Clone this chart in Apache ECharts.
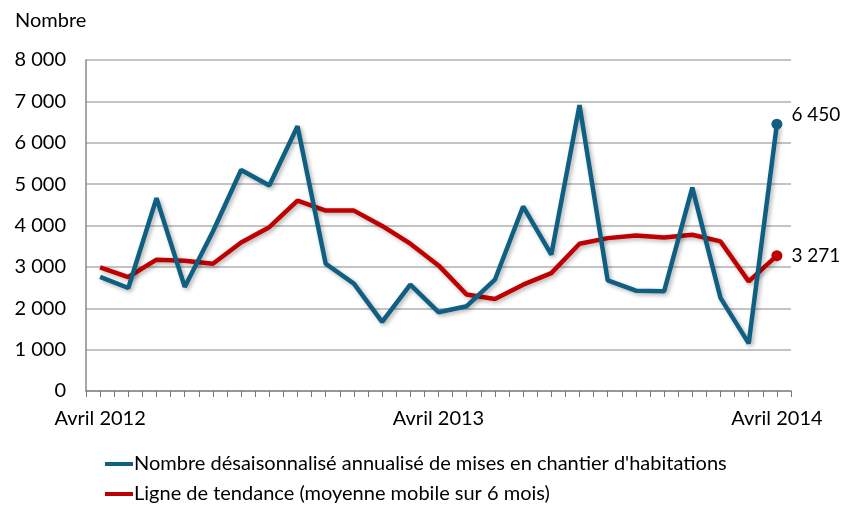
<!DOCTYPE html>
<html>
<head>
<meta charset="utf-8">
<script src="https://cdn.jsdelivr.net/npm/echarts@6/dist/echarts.min.js"></script>
<style>
  html, body { margin: 0; padding: 0; background: #fff; }
  #chart { width: 844px; height: 506px; }
</style>
</head>
<body>
<div id="chart"></div>
<script>
// mois d'avril 2012 à avril 2014
var months = ["Avril 2012", "Mai 2012", "Juin 2012", "Juil. 2012", "Août 2012", "Sept. 2012",
  "Oct. 2012", "Nov. 2012", "Déc. 2012", "Janv. 2013", "Févr. 2013", "Mars 2013",
  "Avril 2013", "Mai 2013", "Juin 2013", "Juil. 2013", "Août 2013", "Sept. 2013",
  "Oct. 2013", "Nov. 2013", "Déc. 2013", "Janv. 2014", "Févr. 2014", "Mars 2014", "Avril 2014"];
var shownLabels = ["Avril 2012", "Avril 2013", "Avril 2014"];

var mises = [2760, 2490, 4660, 2515, 3855, 5340, 4965, 6400, 3075, 2595, 1670, 2570,
  1905, 2050, 2690, 4460, 3295, 6910, 2675, 2425, 2410, 4915, 2250, 1150, 6450];
var tendance = [2990, 2755, 3175, 3150, 3075, 3590, 3960, 4600, 4360, 4360, 3990, 3560,
  3035, 2330, 2225, 2570, 2850, 3560, 3695, 3760, 3710, 3775, 3615, 2650, 3271];

var yTicks = [0, 1000, 2000, 3000, 4000, 5000, 6000, 7000, 8000];

var font = "Lato";
var blue = "#0f5f82";
var red = "#c00000";

function fmt(v) {
  return String(v).replace(/\B(?=(\d{3})+(?!\d))/g, " ");
}

// seul le dernier point porte un rond et une étiquette
function toPoints(values, labelOffset) {
  return values.map(function (v, i) {
    if (i === values.length - 1) {
      return {
        value: [i, v],
        symbol: "circle",
        symbolSize: 11,
        label: {
          show: true,
          position: "right",
          distance: 9,
          offset: labelOffset,
          formatter: function (p) { return fmt(p.value[1]); },
          fontFamily: font,
          fontSize: 19,
          color: "#000"
        }
      };
    }
    return { value: [i, v], symbol: "none" };
  });
}

var myChart = echarts.init(document.getElementById("chart"));

var option = {
  animation: false,
  textStyle: { fontFamily: font },
  title: {
    text: "Nombre",
    left: 10,
    top: 6,
    textStyle: { fontFamily: font, fontSize: 20, fontWeight: "normal", color: "#000" }
  },
  legend: {
    orient: "vertical",
    left: 100,
    top: 449,
    height: 80,
    itemWidth: 28,
    itemHeight: 4,
    itemGap: 10,
    icon: "rect",
    textStyle: { fontFamily: font, fontSize: 20, color: "#000", padding: [0, 0, 0, -4] },
    data: [
      "Nombre désaisonnalisé annualisé de mises en chantier d'habitations",
      "Ligne de tendance (moyenne mobile sur 6 mois)"
    ]
  },
  grid: { left: 86, right: 53, top: 60, bottom: 115 },
  xAxis: {
    type: "value",
    min: -0.5,
    max: months.length - 0.5,
    interval: 0.5,
    axisLine: { onZero: false, lineStyle: { color: "#888", width: 1.5 } },
    axisTick: { show: true, length: 6, lineStyle: { color: "#777", width: 1 } },
    splitLine: { show: false },
    axisLabel: {
      margin: 18,
      fontFamily: font,
      fontSize: 20,
      color: "#000",
      formatter: function (v) {
        var name = months[v];
        return shownLabels.indexOf(name) >= 0 ? name : "";
      }
    }
  },
  yAxis: {
    type: "value",
    min: yTicks[0],
    max: yTicks[yTicks.length - 1],
    interval: 1000,
    axisLine: { show: true, onZero: false, lineStyle: { color: "#888", width: 1.5 } },
    axisTick: { show: false },
    splitLine: { lineStyle: { color: "#b0b0b0", width: 1.5 } },
    axisLabel: {
      margin: 20,
      fontFamily: font,
      fontSize: 20,
      color: "#000",
      formatter: function (v) { return fmt(v); }
    }
  },
  series: [
    {
      name: "Nombre désaisonnalisé annualisé de mises en chantier d'habitations",
      type: "line",
      data: toPoints(mises, [0, -9]),
      color: blue,
      lineStyle: { width: 4.5, color: blue, shadowColor: "rgba(0,0,0,0.3)", shadowBlur: 4, shadowOffsetX: 2, shadowOffsetY: 2 },
      itemStyle: { color: blue },
      z: 3
    },
    {
      name: "Ligne de tendance (moyenne mobile sur 6 mois)",
      type: "line",
      data: toPoints(tendance, [0, 0]),
      color: red,
      lineStyle: { width: 4.5, color: red, shadowColor: "rgba(0,0,0,0.3)", shadowBlur: 4, shadowOffsetX: 2, shadowOffsetY: 2 },
      itemStyle: { color: red },
      z: 2
    }
  ]
};

myChart.setOption(option);
window.addEventListener("resize", function () {
  myChart.resize();
});
</script>
</body>
</html>
